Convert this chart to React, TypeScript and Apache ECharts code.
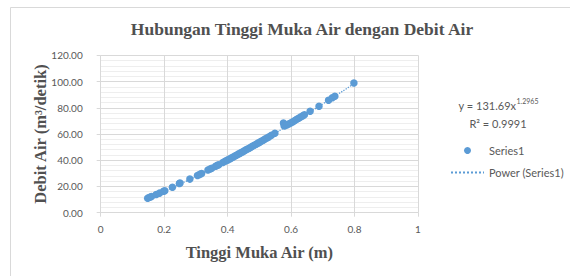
import React, { useEffect, useRef } from "react";
import * as echarts from "echarts";

const titleText = "Hubungan Tinggi Muka Air dengan Debit Air";
const xAxisTitle = "Tinggi Muka Air (m)";
const yAxisTitle = "Debit Air (m³/detik)";
const seriesName = "Series1";
const trendName = "Power (Series1)";
const equationMain = "y = 131.69x";
const equationExp = "1.2965";
const rSquared = "R² = 0.9991";

const heights = [
  0.148, 0.155, 0.16, 0.175, 0.185, 0.198, 0.202, 0.226, 0.248, 0.25, 0.281, 0.305, 0.312, 0.318,
  0.338, 0.345, 0.35, 0.362, 0.368, 0.372, 0.385, 0.392, 0.398, 0.402, 0.408, 0.413, 0.418, 0.423,
  0.428, 0.433, 0.438, 0.443, 0.448, 0.453, 0.458, 0.463, 0.468, 0.473, 0.478, 0.484, 0.49, 0.495,
  0.5, 0.506, 0.512, 0.518, 0.524, 0.53, 0.538, 0.549, 0.576, 0.578, 0.582, 0.588, 0.594, 0.6,
  0.606, 0.612, 0.618, 0.624, 0.63, 0.636, 0.642, 0.66, 0.688, 0.718, 0.73, 0.738, 0.798,
];
const discharges = [
  11.1, 11.8, 12.4, 13.9, 14.9, 16.3, 16.7, 19.4, 22.2, 22.6, 25.6, 28.3, 29.2, 29.9,
  32.5, 33.3, 33.9, 35.4, 36.1, 36.6, 38.3, 39.2, 39.9, 40.4, 41.2, 41.8, 42.5, 43.2,
  43.8, 44.5, 45.2, 45.8, 46.5, 47.2, 47.9, 48.5, 49.2, 49.9, 50.6, 51.4, 52.2, 52.9,
  53.6, 54.4, 55.3, 56.1, 57.0, 57.8, 59.0, 60.6, 68.3, 66.2, 66.4, 67.0, 67.8, 68.6,
  69.4, 70.3, 71.2, 72.0, 72.9, 73.8, 74.6, 77.3, 81.1, 85.7, 87.6, 88.8, 98.9,
];

const trendX = [0.148, 0.2, 0.25, 0.3, 0.35, 0.4, 0.45, 0.5, 0.55, 0.6, 0.65, 0.7, 0.75, 0.798];
const trendY = [11.06, 16.34, 21.82, 27.64, 33.76, 40.15, 46.76, 53.61, 60.67, 67.91, 75.34, 82.94, 90.69, 98.3];

const xTicks = { min: 0, max: 1, step: 0.2 };
const yTicks = { min: 0, max: 120, step: 20 };

const textColor = "#595959";
const titleColor = "#505050";
const gridColor = "#d9d9d9";
const blue = "#5b9bd5";
const sans = "Lato, 'Open Sans', sans-serif";
const serif = "'Liberation Serif', 'Times New Roman', serif";

export default function App() {
  const ref = useRef<HTMLDivElement>(null);
  useEffect(() => {
    if (!ref.current) return;
    const chart = echarts.init(ref.current, null, { renderer: "svg" });
    chart.setOption({
      animation: false,
      backgroundColor: "#ffffff",
      grid: { left: 100.7, right: 152, top: 55.3, bottom: 63.3 },
      xAxis: {
        type: "value",
        min: xTicks.min,
        max: xTicks.max,
        interval: xTicks.step,
        name: xAxisTitle,
        nameLocation: "middle",
        nameGap: 31,
        nameTextStyle: { fontFamily: serif, fontWeight: "bold", fontSize: 16.5, color: titleColor },
        axisLine: { show: true, lineStyle: { color: gridColor } },
        axisTick: { show: true, length: 4, lineStyle: { color: gridColor } },
        axisLabel: { fontFamily: sans, fontSize: 10, color: textColor, margin: 11 },
        splitLine: { show: true, lineStyle: { color: gridColor } },
      },
      yAxis: {
        type: "value",
        min: yTicks.min,
        max: yTicks.max,
        interval: yTicks.step,
        name: yAxisTitle,
        nameLocation: "middle",
        nameGap: 52,
        nameMoveOverlap: false,
        nameTextStyle: { fontFamily: serif, fontWeight: "bold", fontSize: 16.5, color: titleColor },
        axisLine: { show: false },
        axisTick: { show: true, length: 4, lineStyle: { color: gridColor } },
        axisLabel: {
          fontFamily: sans,
          fontSize: 10,
          color: textColor,
          margin: 18,
          formatter: (v: number) => v.toFixed(2),
        },
        splitLine: { show: true, lineStyle: { color: gridColor } },
        minorTick: { show: false, splitNumber: 5 },
        minorSplitLine: { show: true, lineStyle: { color: "#eeeeee" } },
      },
      legend: {
        orient: "vertical",
        left: 445,
        top: 140,
        itemWidth: 33,
        itemHeight: 7,
        itemGap: 11,
        textStyle: { fontFamily: sans, fontSize: 11, color: textColor },
        data: [
          { name: seriesName, icon: "circle" },
          { name: trendName, itemStyle: { opacity: 0 } },
        ],
      },
      title: {
        text: titleText,
        left: 297,
        top: 15,
        textAlign: "center",
        textStyle: { fontFamily: serif, fontWeight: "bold", fontSize: 17.5, color: titleColor },
      },
      graphic: [
        {
          type: "rect",
          shape: { x: 10.5, y: 7.5, width: 570, height: 290 },
          style: { fill: "none", stroke: "#d9d9d9", lineWidth: 1 },
          silent: true,
        },
        {
          type: "text",
          x: 516,
          y: 105,
          style: {
            text: equationMain,
            fontFamily: sans,
            fontSize: 11,
            fill: textColor,
            textAlign: "right",
            textVerticalAlign: "middle",
          },
        },
        {
          type: "text",
          x: 516.5,
          y: 101,
          style: {
            text: equationExp,
            fontFamily: sans,
            fontSize: 7,
            fill: textColor,
            textAlign: "left",
            textVerticalAlign: "middle",
          },
        },
        {
          type: "text",
          x: 498,
          y: 123,
          style: {
            text: rSquared,
            fontFamily: sans,
            fontSize: 11,
            fill: textColor,
            textAlign: "center",
            textVerticalAlign: "middle",
          },
        },
      ],
      series: [
        {
          name: trendName,
          type: "line",
          data: trendX.map((x, i) => [x, trendY[i]]),
          smooth: true,
          symbol: "none",
          showSymbol: false,
          lineStyle: { color: blue, width: 1.3, type: "dotted" },
          itemStyle: { color: blue },
          z: 1,
        },
        {
          name: seriesName,
          type: "scatter",
          data: heights.map((h, i) => [h, discharges[i]]),
          symbol: "circle",
          symbolSize: 7.5,
          itemStyle: { color: blue, opacity: 1 },
          z: 2,
        },
      ],
    });
    return () => chart.dispose();
  }, []);
  return (
    <div
      ref={ref}
      style={{ position: "fixed", left: 0, top: 0, width: 570, height: 276 }}
    />
  );
}
